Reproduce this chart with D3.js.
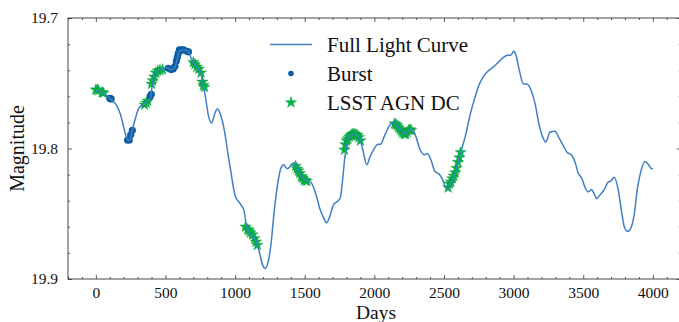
<!DOCTYPE html>
<html>
<head>
<meta charset="utf-8">
<script src="https://cdn.jsdelivr.net/npm/d3@7"></script>
<style>
  body { margin: 0; background: #fff; }
  svg text { font-family: "Liberation Serif", "Times New Roman", serif; fill: #111; }
</style>
</head>
<body>
<div id="chart"></div>
<script>
// full light curve
var curveDays = [0, 57, 105, 153, 177, 201, 225, 242, 261, 285, 309, 345, 376, 393, 405, 417, 441, 477, 513, 543,
  567, 584, 601, 632, 663, 692, 721, 752, 771, 788, 807, 831, 855, 871, 895, 926, 950, 970, 1000, 1041,
  1065, 1084, 1113, 1149, 1173, 1197, 1216, 1238, 1257, 1281, 1305, 1329, 1348, 1374, 1396, 1420, 1449, 1472, 1508, 1544,
  1580, 1611, 1635, 1657, 1680, 1707, 1736, 1755, 1771, 1788, 1807, 1831, 1860, 1891, 1915, 1946, 1970, 1994, 2023, 2047,
  2071, 2106, 2138, 2166, 2202, 2226, 2250, 2274, 2298, 2329, 2358, 2382, 2406, 2435, 2465, 2490, 2513, 2530, 2549, 2574,
  2602, 2626, 2657, 2688, 2722, 2753, 2784, 2813, 2849, 2885, 2921, 2957, 2980, 3000, 3016, 3040, 3072, 3095, 3124, 3153,
  3183, 3207, 3231, 3262, 3296, 3327, 3351, 3382, 3416, 3440, 3464, 3490, 3514, 3536, 3560, 3579, 3596, 3622, 3651, 3679,
  3698, 3722, 3751, 3775, 3794, 3818, 3842, 3866, 3890, 3914, 3943, 3966, 3986, 4000];
var curveMags = [19.7555, 19.7575, 19.762, 19.7677, 19.774, 19.784, 19.793, 19.794, 19.786, 19.7766, 19.769, 19.766, 19.763, 19.761, 19.751, 19.746, 19.741, 19.739, 19.738, 19.7396,
  19.738, 19.732, 19.725, 19.7245, 19.7255, 19.733, 19.737, 19.742, 19.751, 19.761, 19.774, 19.7805, 19.773, 19.7695, 19.774, 19.788, 19.805, 19.818, 19.836, 19.843,
  19.848, 19.861, 19.866, 19.8706, 19.879, 19.889, 19.892, 19.8865, 19.874, 19.848, 19.8277, 19.815, 19.8124, 19.8155, 19.8137, 19.811, 19.815, 19.82, 19.8247, 19.826,
  19.835, 19.847, 19.853, 19.857, 19.852, 19.843, 19.8405, 19.838, 19.825, 19.807, 19.7945, 19.79, 19.789, 19.7915, 19.80, 19.8124, 19.806, 19.801, 19.797, 19.7966,
  19.7907, 19.783, 19.7797, 19.783, 19.787, 19.789, 19.7856, 19.7856, 19.7907, 19.801, 19.8047, 19.804, 19.8086, 19.8175, 19.8195, 19.8239, 19.83, 19.831, 19.8264, 19.82,
  19.81, 19.801, 19.789, 19.774, 19.761, 19.751, 19.7447, 19.741, 19.738, 19.7345, 19.7307, 19.7286, 19.7286, 19.7255, 19.728, 19.7396, 19.7506, 19.7506, 19.755, 19.765,
  19.7817, 19.7907, 19.795, 19.7874, 19.7868, 19.792, 19.7966, 19.8027, 19.805, 19.81, 19.8188, 19.823, 19.830, 19.8333, 19.8315, 19.8349, 19.8384, 19.8354, 19.8315, 19.8257,
  19.825, 19.822, 19.8315, 19.848, 19.8596, 19.8635, 19.861, 19.8507, 19.830, 19.8175, 19.81, 19.812, 19.815, 19.8157];

// burst samples
var burstDays = [100, 110, 228, 240, 250, 262, 390, 398, 520, 540, 555, 568, 578, 585, 592, 600, 615, 630, 655, 665];
var burstMags = [19.7615, 19.762, 19.7935, 19.7935, 19.7895, 19.786, 19.760, 19.7585, 19.7385, 19.7395, 19.739, 19.737, 19.733, 19.730, 19.727, 19.7245, 19.7245, 19.7245, 19.7255, 19.726];

// LSST AGN DC samples
var lsstDays = [0, 10, 20, 45, 55,
  350, 362, 372, 400, 408, 418, 430, 445, 460, 478,
  700, 712, 725, 740, 755, 765, 772, 780,
  1075, 1090, 1100, 1110, 1125, 1140, 1150, 1160,
  1435, 1445, 1455, 1465, 1475, 1485, 1495, 1505, 1515,
  1785, 1792, 1800, 1810, 1820, 1830, 1840, 1850, 1860, 1870, 1880, 1890, 1900,
  2145, 2155, 2165, 2175, 2185, 2195, 2205, 2215, 2225, 2235, 2245, 2255, 2265,
  2530, 2540, 2550, 2560, 2570, 2580, 2590, 2600, 2610, 2620];
var lsstMags = [19.755, 19.755, 19.7555, 19.757, 19.7575,
  19.7665, 19.765, 19.7635, 19.7505, 19.748, 19.745, 19.742, 19.7405, 19.740, 19.7395,
  19.734, 19.7355, 19.7375, 19.739, 19.742, 19.749, 19.7515, 19.753,
  19.860, 19.862, 19.863, 19.8645, 19.866, 19.869, 19.8715, 19.874,
  19.8135, 19.8155, 19.817, 19.819, 19.8215, 19.8225, 19.824, 19.8245, 19.825,
  19.801, 19.797, 19.794, 19.7925, 19.791, 19.790, 19.789, 19.789, 19.789, 19.7895, 19.790, 19.7915, 19.794,
  19.781, 19.7815, 19.7825, 19.784, 19.7855, 19.787, 19.788, 19.789, 19.789, 19.7875, 19.786, 19.7855, 19.786,
  19.830, 19.827, 19.8255, 19.823, 19.821, 19.8185, 19.815, 19.8105, 19.807, 19.803];

var xTicks = [0, 500, 1000, 1500, 2000, 2500, 3000, 3500, 4000];
var yTicks = [19.7, 19.8, 19.9];
var legendLabels = ['Full Light Curve', 'Burst', 'LSST AGN DC'];

var W = 679, H = 322;
var pL = 68, pR = 680.7, pT = 18, pB = 279;
var lineColor = '#3f7fc2';
var burstColor = '#0C5DA5';
var lsstColor = '#00B945';

var svg = d3.select('#chart').append('svg')
  .attr('width', W)
  .attr('height', H);

var x = d3.scaleLinear().domain([-200, 4200]).range([pL, pR]);
var y = d3.scaleLinear().domain([19.7, 19.9]).range([pT, pB]);

var plot = svg.append('g');

// LSST stars
var star = d3.symbol().type(d3.symbolStar).size(40);
plot.selectAll('path.lsst')
  .data(lsstDays.map(function(d, i) { return [d, lsstMags[i]]; }))
  .enter().append('path')
  .attr('class', 'lsst')
  .attr('d', star)
  .attr('transform', function(d) { return 'translate(' + x(d[0]) + ',' + y(d[1]) + ')'; })
  .attr('fill', lsstColor)
  .attr('stroke', '#0a9a3a')
  .attr('stroke-width', 0.4);

// burst dots
plot.selectAll('circle.burst')
  .data(burstDays.map(function(d, i) { return [d, burstMags[i]]; }))
  .enter().append('circle')
  .attr('class', 'burst')
  .attr('cx', function(d) { return x(d[0]); })
  .attr('cy', function(d) { return y(d[1]); })
  .attr('r', 3.6)
  .attr('fill', burstColor);

// light curve
var line = d3.line()
  .x(function(d) { return x(d[0]); })
  .y(function(d) { return y(d[1]); })
  .curve(d3.curveMonotoneX);
plot.append('path')
  .datum(curveDays.map(function(d, i) { return [d, curveMags[i]]; }))
  .attr('d', line)
  .attr('fill', 'none')
  .attr('stroke', lineColor)
  .attr('stroke-width', 1.5);

// axes, ticks inward on all sides
var xMinor = d3.range(-200, 4201, 100).filter(function(v) { return v % 500 !== 0; });
var yMinor = d3.range(19.72, 19.9, 0.02).filter(function(v) { return Math.abs(v - 19.8) > 1e-6; });

svg.append('g').attr('transform', 'translate(0,' + pB + ')')
  .call(d3.axisBottom(x).tickValues(xTicks).tickSizeInner(-4).tickSizeOuter(0).tickPadding(8).tickFormat(d3.format('d')));
svg.append('g').attr('transform', 'translate(0,' + pB + ')')
  .call(d3.axisBottom(x).tickValues(xMinor).tickSizeInner(-2).tickSizeOuter(0).tickFormat(''));
svg.append('g').attr('transform', 'translate(0,' + pT + ')')
  .call(d3.axisTop(x).tickValues(xTicks).tickSizeInner(-4).tickSizeOuter(0).tickFormat(''));
svg.append('g').attr('transform', 'translate(0,' + pT + ')')
  .call(d3.axisTop(x).tickValues(xMinor).tickSizeInner(-2).tickSizeOuter(0).tickFormat(''));
svg.append('g').attr('transform', 'translate(' + pL + ',0)')
  .call(d3.axisLeft(y).tickValues(yTicks).tickSizeInner(-4).tickSizeOuter(0).tickPadding(10).tickFormat(d3.format('.1f')));
svg.append('g').attr('transform', 'translate(' + pL + ',0)')
  .call(d3.axisLeft(y).tickValues(yMinor).tickSizeInner(-2).tickSizeOuter(0).tickFormat(''));
svg.append('g').attr('transform', 'translate(' + pR + ',0)')
  .call(d3.axisRight(y).tickValues(yTicks).tickSizeInner(-4).tickSizeOuter(0).tickFormat(''));
svg.append('g').attr('transform', 'translate(' + pR + ',0)')
  .call(d3.axisRight(y).tickValues(yMinor).tickSizeInner(-2).tickSizeOuter(0).tickFormat(''));

svg.selectAll('.domain').remove();
svg.selectAll('.tick line').attr('stroke', '#333').attr('stroke-width', 0.8);
svg.selectAll('.tick text').style('font-size', '15.5px').style('font-family', '"Liberation Serif", serif').attr('fill', '#111');

svg.append('rect')
  .attr('x', pL).attr('y', pT)
  .attr('width', pR - pL).attr('height', pB - pT)
  .attr('fill', 'none')
  .attr('stroke', '#333')
  .attr('stroke-width', 0.9);

// axis labels
svg.append('text')
  .attr('x', (pL + 680) / 2 + 2).attr('y', 319)
  .attr('text-anchor', 'middle')
  .style('font-size', '19.5px')
  .text('Days');
svg.append('text')
  .attr('transform', 'translate(24,' + ((pT + pB) / 2) + ') rotate(-90)')
  .attr('text-anchor', 'middle')
  .style('font-size', '20px')
  .text('Magnitude');

// legend
var lg = svg.append('g');
var rowY = [44.5, 73.5, 102.5];
lg.append('line')
  .attr('x1', 270).attr('x2', 312)
  .attr('y1', rowY[0]).attr('y2', rowY[0])
  .attr('stroke', lineColor).attr('stroke-width', 1.5);
lg.append('circle')
  .attr('cx', 291).attr('cy', rowY[1]).attr('r', 2.8)
  .attr('fill', burstColor);
lg.append('path')
  .attr('d', star)
  .attr('transform', 'translate(291,' + rowY[2] + ')')
  .attr('fill', lsstColor)
  .attr('stroke', '#0a9a3a')
  .attr('stroke-width', 0.4);
legendLabels.forEach(function(t, i) {
  lg.append('text')
    .attr('x', 327).attr('y', rowY[i] + 7)
    .style('font-size', '21px')
    .text(t);
});
</script>
</body>
</html>
